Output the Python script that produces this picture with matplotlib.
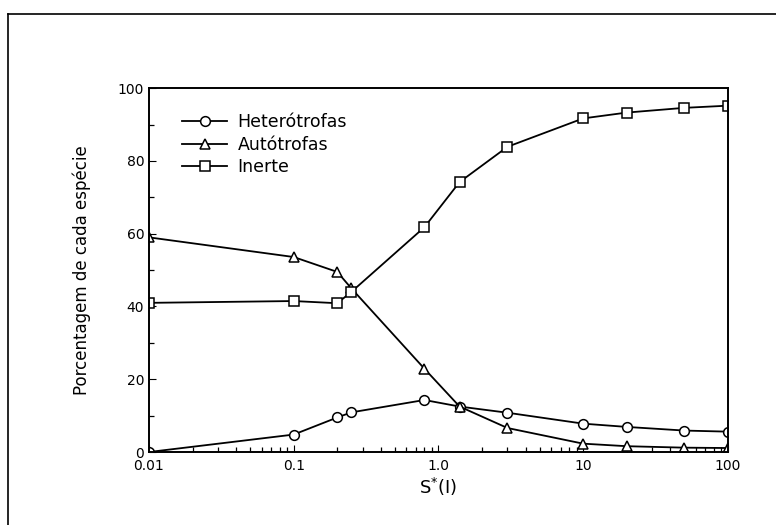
import matplotlib.pyplot as plt
from matplotlib.lines import Line2D
from matplotlib.ticker import LogLocator, NullFormatter

# valores (porcentagem de cada espécie vs S*)
s_star = [0.01, 0.1, 0.2, 0.25, 0.8, 1.4, 3, 10, 20, 50, 100]
heterotrofas = [0, 4.8, 9.5, 10.9, 14.3, 12.5, 10.8, 7.8, 6.9, 5.9, 5.6]
autotrofas = [59, 53.6, 49.5, 45.0, 22.9, 12.5, 6.6, 2.3, 1.6, 1.2, 1.1]
inerte = [41, 41.5, 40.9, 44.0, 61.8, 74.2, 83.9, 91.7, 93.3, 94.6, 95.2]

series_labels = ["Heterótrofas", "Autótrofas", "Inerte"]
x_ticks = [0.01, 0.1, 1, 10, 100]
x_tick_labels = ["0.01", "0.1", "1.0", "10", "100"]
y_ticks = [0, 20, 40, 60, 80, 100]


def main() -> None:
    fig = plt.figure(figsize=(7.76, 5.25), dpi=100)
    ax = fig.add_axes([0.192, 0.139, 0.746, 0.693])

    style = dict(color="black", linewidth=1.3, markerfacecolor="white",
                 markeredgecolor="black", markeredgewidth=1.1, markersize=7)
    ax.plot(s_star, heterotrofas, marker="o", label=series_labels[0], **style)
    ax.plot(s_star, autotrofas, marker="^", label=series_labels[1], **style)
    ax.plot(s_star, inerte, marker="s", label=series_labels[2],
            **{**style, "markersize": 6.5})

    ax.set_xscale("log")
    ax.set_xlim(0.01, 100)
    ax.set_ylim(0, 100)
    ax.set_xticks(x_ticks)
    ax.set_xticklabels(x_tick_labels)
    ax.xaxis.set_minor_locator(LogLocator(base=10, subs=range(2, 10), numticks=30))
    ax.xaxis.set_minor_formatter(NullFormatter())
    ax.set_yticks(y_ticks)
    ax.set_yticks(range(10, 100, 20), minor=True)
    ax.tick_params(which="both", direction="in", labelsize=10)
    ax.tick_params(which="major", length=5)
    ax.tick_params(which="minor", length=3.5, width=0.9)
    ax.tick_params(axis="x", pad=5)
    for spine in ax.spines.values():
        spine.set_linewidth(1.4)

    ax.set_xlabel("S$^{*}$(I)", fontsize=13, labelpad=2)
    ax.set_ylabel("Porcentagem de cada espécie", fontsize=12, labelpad=19)

    ax.legend(loc="upper left", bbox_to_anchor=(0.045, 0.95), frameon=False,
              fontsize=12.5, handlelength=2.6, handletextpad=0.6,
              labelspacing=0.25, borderaxespad=0)

    # moldura da figura escaneada (apenas lados esquerdo e superior)
    fig.add_artist(Line2D([0.0103, 0.0103], [0.0, 0.973], color="black",
                          linewidth=1.2, transform=fig.transFigure))
    fig.add_artist(Line2D([0.0103, 1.0], [0.973, 0.973], color="black",
                          linewidth=1.2, transform=fig.transFigure))

    fig.savefig("out.png", dpi=100)


if __name__ == "__main__":
    main()
